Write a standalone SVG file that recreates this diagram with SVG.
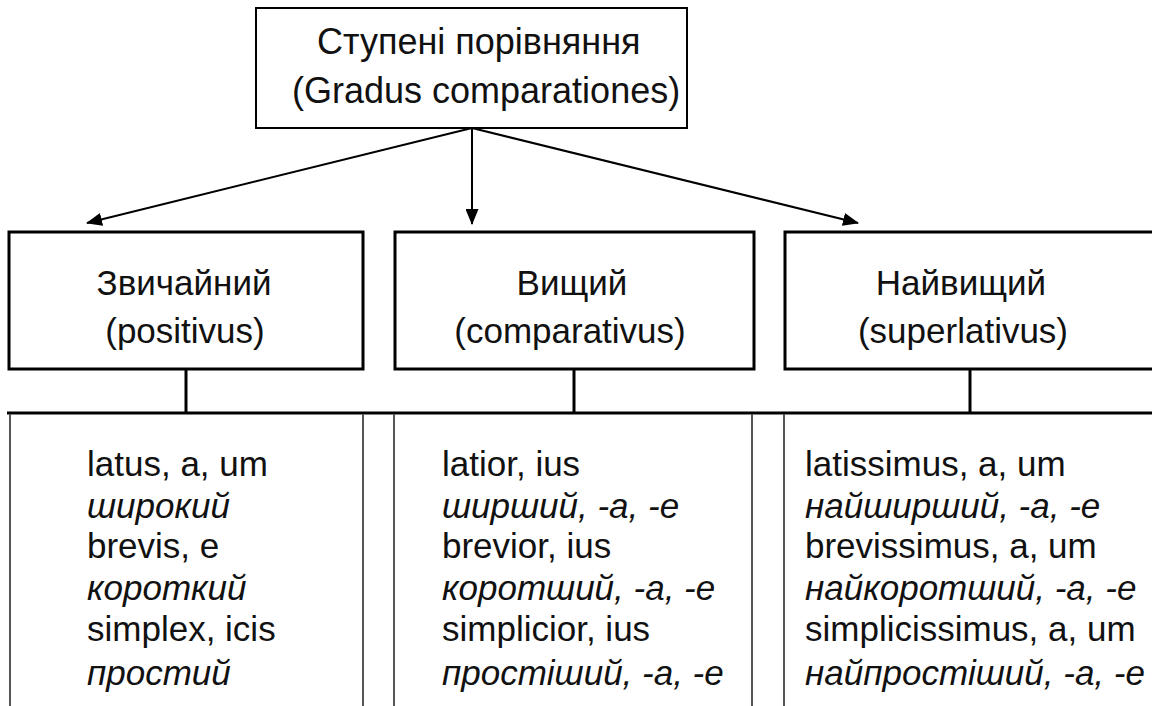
<svg xmlns="http://www.w3.org/2000/svg" width="1152" height="706" viewBox="0 0 1152 706">
  <defs>
    <marker id="arrow" viewBox="0 0 16 13" refX="15" refY="6.5" markerWidth="16" markerHeight="13" markerUnits="userSpaceOnUse" orient="auto">
      <path d="M0,0 L16,6.5 L0,13 z" fill="#000"/>
    </marker>
    <style>
      text { font-family: "Liberation Sans", Arial, sans-serif; fill: #111; }
      .big { font-size: 35px; }
      .head { font-size: 36px; }
      .it { font-style: italic; }
      .box { fill: #fff; stroke: #000; stroke-width: 3; }
      .top { fill: #fff; stroke: #000; stroke-width: 2; }
      .conn { stroke: #000; stroke-width: 2; fill: none; }
      .stem { stroke: #000; stroke-width: 3; }
      .rule { stroke: #555; stroke-width: 2; }
    </style>
  </defs>

  <rect width="1152" height="706" fill="#fff"/>

  <!-- connectors: arrows from the root, stems down to the table line -->
  <g id="connectors">
    <line class="conn" x1="472" y1="128" x2="87" y2="223" marker-end="url(#arrow)"/>
    <line class="conn" x1="472" y1="128" x2="472" y2="224" marker-end="url(#arrow)"/>
    <line class="conn" x1="472" y1="128" x2="858" y2="223" marker-end="url(#arrow)"/>
    <line class="stem" x1="186" y1="369" x2="186" y2="413"/>
    <line class="stem" x1="574" y1="369" x2="574" y2="413"/>
    <line class="stem" x1="970" y1="369" x2="970" y2="413"/>
    <line class="stem" x1="7" y1="413" x2="1152" y2="413"/>
  </g>

  <!-- table column rules -->
  <g id="table-rules">
    <line class="rule" x1="10" y1="414" x2="10" y2="706"/>
    <line class="rule" x1="363" y1="414" x2="363" y2="706"/>
    <line class="rule" x1="394" y1="414" x2="394" y2="706"/>
    <line class="rule" x1="752" y1="414" x2="752" y2="706"/>
    <line class="rule" x1="784" y1="414" x2="784" y2="706"/>
  </g>

  <g id="root">
    <rect class="top" x="256" y="8" width="431" height="120"/>
    <text class="head" x="317" y="54">Ступені порівняння</text>
    <text class="head" x="292" y="103">(Gradus comparationes)</text>
  </g>

  <g id="positivus">
    <rect class="box" x="9" y="232" width="354" height="137"/>
    <text class="big" x="184" y="295" text-anchor="middle">Звичайний</text>
    <text class="big" x="185" y="343" text-anchor="middle">(positivus)</text>
  </g>

  <g id="comparativus">
    <rect class="box" x="395" y="232" width="359" height="137"/>
    <text class="big" x="572" y="295" text-anchor="middle">Вищий</text>
    <text class="big" x="570" y="343" text-anchor="middle">(comparativus)</text>
  </g>

  <g id="superlativus">
    <rect class="box" x="785" y="232" width="380" height="137"/>
    <text class="big" x="961" y="295" text-anchor="middle">Найвищий</text>
    <text class="big" x="963" y="343" text-anchor="middle">(superlativus)</text>
  </g>

  <g id="col-positivus">
    <text class="big" x="87" y="476">latus, a, um</text>
    <text class="big it" x="87" y="518">широкий</text>
    <text class="big" x="87" y="558">brevis, e</text>
    <text class="big it" x="87" y="600">короткий</text>
    <text class="big" x="87" y="641">simplex, icis</text>
    <text class="big it" x="87" y="685">простий</text>
  </g>

  <g id="col-comparativus">
    <text class="big" x="442" y="476">latior, ius</text>
    <text class="big it" x="442" y="518">ширший, -а, -е</text>
    <text class="big" x="442" y="558">brevior, ius</text>
    <text class="big it" x="442" y="600">коротший, -а, -е</text>
    <text class="big" x="442" y="641">simplicior, ius</text>
    <text class="big it" x="442" y="685">простіший, -а, -е</text>
  </g>

  <g id="col-superlativus">
    <text class="big" x="805" y="476">latissimus, a, um</text>
    <text class="big it" x="805" y="518">найширший, -а, -е</text>
    <text class="big" x="805" y="558">brevissimus, a, um</text>
    <text class="big it" x="805" y="600">найкоротший, -а, -е</text>
    <text class="big" x="805" y="641">simplicissimus, a, um</text>
    <text class="big it" x="805" y="685">найпростіший, -а, -е</text>
  </g>
</svg>
